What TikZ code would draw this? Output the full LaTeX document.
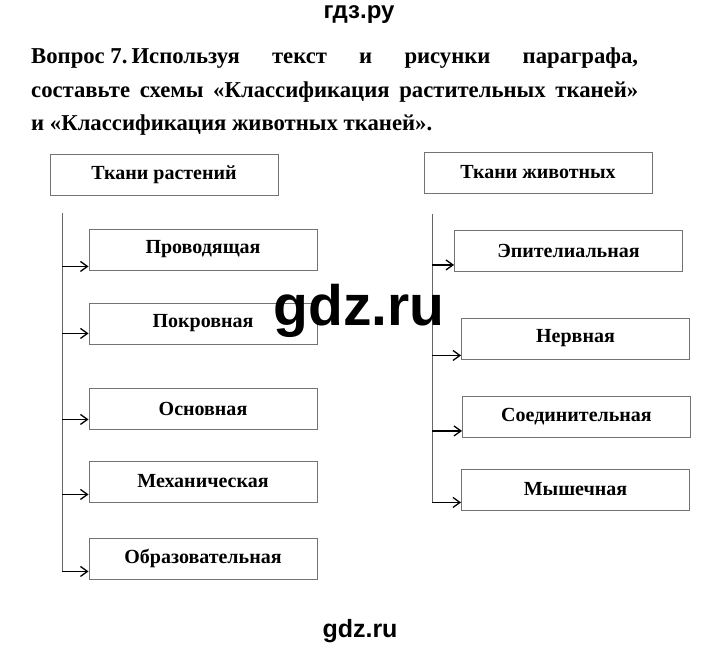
\documentclass[tikz,border=0pt]{standalone}
\usepackage{fontspec}
\setmainfont{Liberation Serif}
\newfontfamily\wmfont{Liberation Sans}
\usetikzlibrary{arrows.meta}

\tikzset{
  tissue/.style={draw=black!55, line width=0.9pt, minimum width=228pt,
    minimum height=41pt, inner sep=0pt, font=\bfseries\fontsize{20}{23}\selectfont},
  bus/.style={draw=black!60, line width=0.9pt},
  arr/.style={-{Straight Barb[length=7pt,width=10pt,line width=1.3pt]}, line width=1.4pt},
  question/.style={anchor=base west, inner sep=0pt, font=\bfseries\fontsize{22.7}{26}\selectfont},
}

\begin{document}
\begin{tikzpicture}[x=1pt, y=-1pt]
	\useasboundingbox (0,0) rectangle (720,647);
	% heading and question
	\node[anchor=base, inner sep=0pt, font=\wmfont\bfseries\fontsize{24}{28}\selectfont] (site) at (359,19) {гдз.ру};
	\node[question] (q1) at (31,64) {\makebox[607pt][s]{\hbox{Вопрос 7.\kern4pt Используя} текст и рисунки параграфа,}};
	\node[question] (q2) at (31,97.5) {\makebox[607pt][s]{составьте схемы «Классификация растительных тканей»}};
	\node[question] (q3) at (31,131) {и «Классификация животных тканей».};

	% plant tissues
	\node[tissue] (plants) at (164,174.5) {Ткани растений};
	\node[tissue] (p1) at (203,249.5) {Проводящая};
	\node[tissue] (p2) at (203,323.5) {Покровная};
	\node[tissue] (p3) at (203,408.5) {Основная};
	\node[tissue] (p4) at (203,481.5) {Механическая};
	\node[tissue] (p5) at (203,558.5) {Образовательная};
	\coordinate (ptop) at (62,213);
	\coordinate (pbot) at (62,571);
	\draw[bus] (ptop) -- (pbot);
	\foreach \b/\h in {p1/4,p2/11,p3/10,p4/8,p5/8}
		\draw[arr] ([yshift=\h pt]\b.south west -| ptop) -- ([yshift=\h pt]\b.south west);

	% animal tissues
	\node[tissue] (animals) at (538,172.5) {Ткани животных};
	\node[tissue] (a1) at (568.5,251) {Эпителиальная};
	\node[tissue] (a2) at (575.5,338.5) {Нервная};
	\node[tissue] (a3) at (576.5,417) {Соединительная};
	\node[tissue] (a4) at (575.5,489.5) {Мышечная};
	\coordinate (atop) at (432,214);
	\coordinate (abot) at (432,502);
	\draw[bus] (atop) -- (abot);
	\foreach \b/\h in {a1/7,a2/4,a3/7,a4/8}
		\draw[arr] ([yshift=\h pt]\b.south west -| atop) -- ([yshift=\h pt]\b.south west);

	% watermarks
	\node[anchor=base, inner sep=0pt, font=\wmfont\bfseries\fontsize{57}{60}\selectfont] (mark) at (359,325) {gdz.ru};
	\node[anchor=base, inner sep=0pt, font=\wmfont\bfseries\fontsize{25}{28}\selectfont] (foot) at (360,637) {gdz.ru};
\end{tikzpicture}
\end{document}
